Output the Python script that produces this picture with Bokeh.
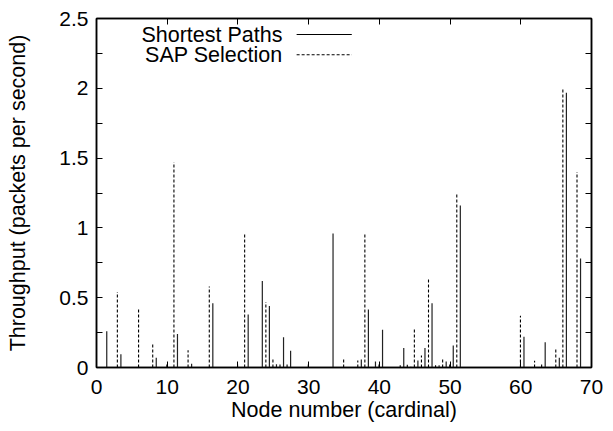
from bokeh.plotting import figure
from bokeh.models import FixedTicker, LinearAxis, Label, Arrow, ColumnDataSource
from bokeh.embed import file_html
from bokeh.resources import INLINE

# Node numbers and throughput values (packets per second)
nodes = list(range(1, 70))
sap_selection = {
    3: 0.54, 6: 0.43, 8: 0.17, 10: 0.035, 11: 1.47, 13: 0.124, 16: 0.58,
    20: 0.036, 21: 0.96, 24: 0.47, 25: 0.057, 26: 0.034, 27: 0.024, 30: 0.035,
    35: 0.057, 37: 0.05, 38: 0.955, 40: 0.036, 43: 0.016, 44: 0.02, 45: 0.28,
    46: 0.086, 47: 0.64, 48: 0.016, 49: 0.057, 50: 0.036, 51: 1.244, 60: 0.37,
    62: 0.048, 63: 0.034, 65: 0.13, 66: 1.996, 68: 1.40,
}
shortest_paths = {
    1: 0.26, 3: 0.095, 8: 0.07, 11: 0.24, 13: 0.026, 16: 0.46, 21: 0.38,
    23: 0.62, 24: 0.44, 25: 0.024, 26: 0.217, 27: 0.12, 33: 0.96, 37: 0.057,
    38: 0.415, 39: 0.043, 40: 0.27, 43: 0.14, 44: 0.005, 45: 0.05, 46: 0.14,
    47: 0.46, 48: 0.016, 49: 0.043, 50: 0.157, 51: 1.16, 60: 0.22, 63: 0.18,
    65: 0.07, 66: 1.968, 68: 0.78,
}
x_ticks = [0, 10, 20, 30, 40, 50, 60, 70]
y_ticks = [0, 0.5, 1, 1.5, 2, 2.5]
y_minor = [0.25, 0.75, 1.25, 1.75, 2.25]
key_labels = ["Shortest Paths", "SAP Selection"]

SAP_OFFSET = -0.05
SP_OFFSET = 0.45

FONT = "Liberation Sans"
FS = "21px"
FS_TITLE = "21.5px"

p = figure(frame_width=495, frame_height=349, x_range=(0, 70), y_range=(0, 2.5),
           output_backend="svg", toolbar_location=None)
p.min_border_left = 96
p.min_border_right = 12
p.min_border_top = 18
p.min_border_bottom = 40
p.grid.visible = False
p.outline_line_color = "black"
p.outline_line_width = 1.5
p.background_fill_color = "white"
p.border_fill_color = "white"

sap_x = [n + SAP_OFFSET for n in nodes if n in sap_selection]
sap_y = [sap_selection[n] for n in nodes if n in sap_selection]
sp_x = [n + SP_OFFSET for n in nodes if n in shortest_paths]
sp_y = [shortest_paths[n] for n in nodes if n in shortest_paths]

src_sap = ColumnDataSource(dict(x=sap_x, y0=[0] * len(sap_x), y1=sap_y))
src_sp = ColumnDataSource(dict(x=sp_x, y0=[0] * len(sp_x), y1=sp_y))

p.segment(x0="x", y0="y0", x1="x", y1="y1", source=src_sap,
          line_color="black", line_width=1.1, line_dash="3 2")
p.segment(x0="x", y0="y0", x1="x", y1="y1", source=src_sp,
          line_color="#222222", line_width=1.2)

# axes
for ax in (p.xaxis[0], p.yaxis[0]):
    ax.axis_line_color = "black"
    ax.axis_line_width = 1.5
    ax.major_tick_in = 6
    ax.major_tick_out = 0
    ax.minor_tick_in = 6
    ax.minor_tick_out = 0
    ax.major_tick_line_color = "black"
    ax.minor_tick_line_color = "black"
    ax.major_label_text_font = FONT
    ax.major_label_text_font_size = FS
    ax.major_label_text_color = "black"
    ax.axis_label_text_font = FONT
    ax.axis_label_text_font_size = FS_TITLE
    ax.axis_label_text_font_style = "normal"
    ax.axis_label_text_color = "black"

p.xaxis.ticker = FixedTicker(ticks=x_ticks, minor_ticks=[])
p.yaxis.ticker = FixedTicker(ticks=y_ticks, minor_ticks=y_minor)
p.xaxis.axis_label = "Node number (cardinal)"
p.yaxis.axis_label = "Throughput (packets per second)"
p.xaxis.major_label_standoff = 12
p.xaxis.axis_label_standoff = 1
p.yaxis.major_label_standoff = 8
p.yaxis.axis_label_standoff = 26
p.yaxis.major_label_overrides = {0: "0", 1: "1", 2: "2"}

# mirrored ticks on top and right (no labels)
top = LinearAxis(ticker=FixedTicker(ticks=x_ticks, minor_ticks=[]))
right = LinearAxis(ticker=FixedTicker(ticks=y_ticks, minor_ticks=y_minor))
top.major_label_overrides = {t: "" for t in x_ticks}
right.major_label_overrides = {t: "" for t in y_ticks}
for ax in (top, right):
    ax.major_label_text_font_size = "1px"
    ax.major_label_standoff = 0
    ax.axis_line_color = "black"
    ax.axis_line_width = 1.5
    ax.major_tick_in = 6
    ax.major_tick_out = 0
    ax.minor_tick_in = 6
    ax.minor_tick_out = 0
    ax.major_tick_line_color = "black"
    ax.minor_tick_line_color = "black"
p.add_layout(top, "above")
p.add_layout(right, "right")

# key (text to the left of its line sample, as in the original)
key_dash = ["solid", "3 2"]
key_y = [2.385, 2.24]
for lab, dash, ky in zip(key_labels, key_dash, key_y):
    p.add_layout(Label(x=26.3, y=ky, text=lab, text_font=FONT,
                       text_font_size=FS_TITLE, text_align="right",
                       text_baseline="middle", text_color="black"))
    p.add_layout(Arrow(x_start=28.3, y_start=ky, x_end=36.1, y_end=ky,
                       end=None, line_color="black", line_width=1.1,
                       line_dash=dash))

open("out.html", "w").write(file_html(p, INLINE))
